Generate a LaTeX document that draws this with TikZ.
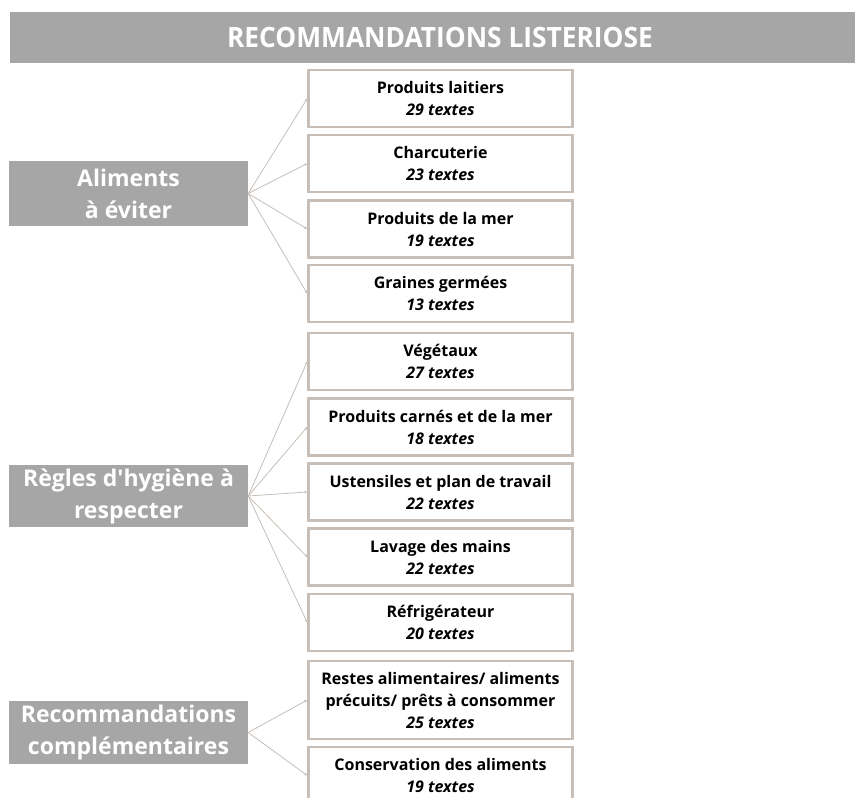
\documentclass[tikz,border=0pt]{standalone}
\usepackage{fontspec}
\setmainfont{Open Sans}
\newfontfamily\titleFont[FakeStretch=0.94]{Open Sans}
\usetikzlibrary{arrows.meta}
\tikzstyle{diagram} = [x = 1pt, y = -1pt]
\definecolor{barGray}{RGB}{166,166,166}
\definecolor{frameColor}{RGB}{199,190,183}
\tikzstyle{titleStyle} = [fill=barGray, text=white, font=\titleFont\bfseries\fontsize{28}{32}\selectfont, minimum width=860pt, minimum height=51pt, inner sep=0pt]
\tikzstyle{themeStyle} = [fill=barGray, text=white, font=\bfseries\fontsize{23}{32}\selectfont, align=center, minimum width=239pt, inner sep=0pt]
\tikzstyle{topicStyle} = [draw=frameColor, line width=2.5pt, fill=white, font=\bfseries\fontsize{16}{22}\selectfont, align=center, minimum width=264pt, inner sep=0pt]
\tikzstyle{branchLine} = [draw=frameColor, line width=0.8pt, -{Stealth[length=3pt, width=3pt]}]
\newcommand{\themeBox}[4]{\node [themeStyle, minimum height=#3] (#1) at (128.5,#2) {#4};}
\newcommand{\topicBox}[5]{\node [topicStyle, minimum height=#3] (#1) at (440.5,#2) {#4\\\textit{#5 textes}};}

\begin{document}
\begin{tikzpicture}[diagram]
  \useasboundingbox (0,0) rectangle (855,798);
  % bar runs past the right edge of the page
  \node [titleStyle] (titre) at (440,37.5) {RECOMMANDATIONS LISTERIOSE};

  \themeBox{aliments}{193.5}{65pt}{Aliments\\à éviter}
  \themeBox{hygiene}{496}{62pt}{Règles d\textquotesingle hygiène à\\respecter}
  \themeBox{complements}{732.5}{63pt}{Recommandations\\complémentaires}

  \topicBox{laitiers}{98.5}{57pt}{Produits laitiers}{29}
  \topicBox{charcuterie}{163.5}{57pt}{Charcuterie}{23}
  \topicBox{mer}{229}{57pt}{Produits de la mer}{19}
  \topicBox{graines}{293.5}{57pt}{Graines germées}{13}
  \topicBox{vegetaux}{361.5}{57pt}{Végétaux}{27}
  \topicBox{carnes}{427}{57pt}{Produits carnés et de la mer}{18}
  \topicBox{ustensiles}{492}{57pt}{Ustensiles et plan de travail}{22}
  \topicBox{mains}{557}{57pt}{Lavage des mains}{22}
  \topicBox{frigo}{622.5}{57pt}{Réfrigérateur}{20}
  \topicBox{restes}{700}{78pt}{Restes alimentaires/ aliments\\précuits/ prêts à consommer}{25}
  \topicBox{conservation}{775.5}{57pt}{Conservation des aliments}{19}

  \foreach \topic in {laitiers,charcuterie,mer,graines}
    \draw [branchLine] (aliments.east) -- (\topic.west);
  \foreach \topic in {vegetaux,carnes,ustensiles,mains,frigo}
    \draw [branchLine] (hygiene.east) -- (\topic.west);
  \foreach \topic in {restes,conservation}
    \draw [branchLine] (complements.east) -- (\topic.west);
\end{tikzpicture}
\end{document}
